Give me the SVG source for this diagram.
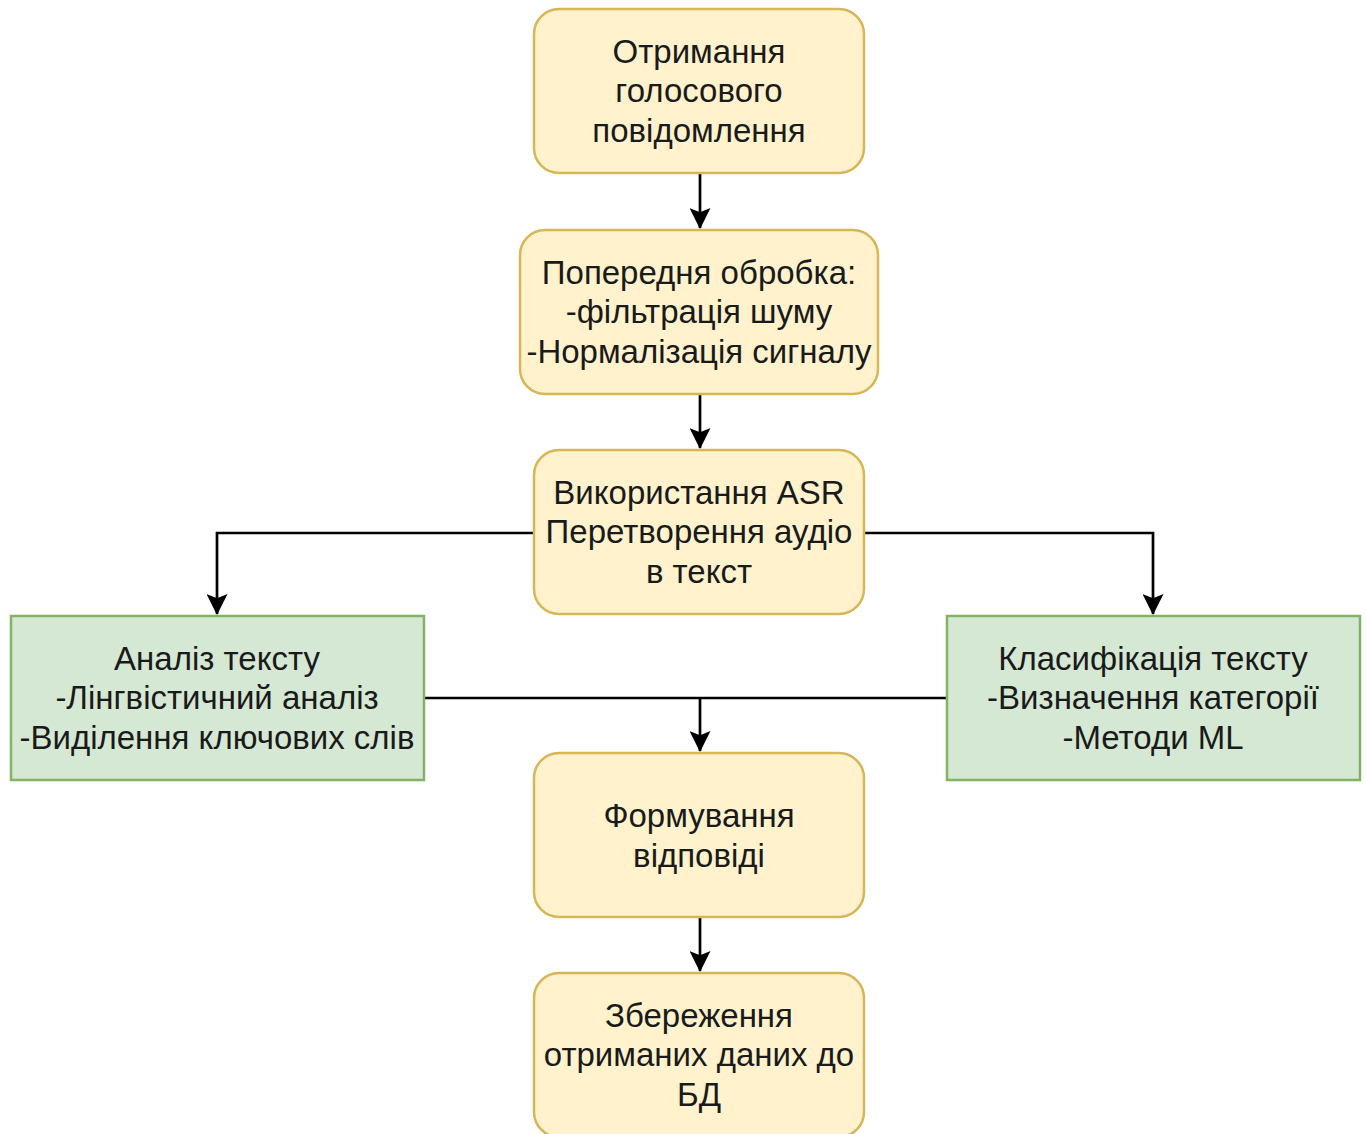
<svg xmlns="http://www.w3.org/2000/svg" width="1366" height="1134" viewBox="0 0 1366 1134">
  <style>
    .proc { fill: #fff2cc; stroke: #d6b656; stroke-width: 2.5; }
    .task { fill: #d5e8d4; stroke: #82b366; stroke-width: 2.5; }
    .lbl { font-family: "Liberation Sans", Arial, sans-serif; font-size: 33px; fill: #1a1a1a; text-anchor: middle; }
    .edge { fill: none; stroke: #000; stroke-width: 2.7; }
  </style>
  <defs>
    <!-- classic notched arrowhead -->
    <marker id="arrow" viewBox="0 0 20 20" refX="19" refY="10" markerWidth="21" markerHeight="21" markerUnits="userSpaceOnUse" orient="auto">
      <path d="M0,0 L20,10 L0,20 L4,10 Z" fill="#000"/>
    </marker>
  </defs>
  <rect width="1366" height="1134" fill="#ffffff"/>

  <g id="connectors">
    <path class="edge" d="M700,174 V228" marker-end="url(#arrow)"/>
    <path class="edge" d="M700,394 V448" marker-end="url(#arrow)"/>
    <path class="edge" d="M534,533 H217 V614" marker-end="url(#arrow)"/>
    <path class="edge" d="M864,533 H1153 V614" marker-end="url(#arrow)"/>
    <path class="edge" d="M424,698 H947"/>
    <path class="edge" d="M700,698 V751" marker-end="url(#arrow)"/>
    <path class="edge" d="M700,917 V971" marker-end="url(#arrow)"/>
  </g>

  <g id="receive">
    <rect class="proc" x="534" y="9" width="330" height="164" rx="25"/>
    <text class="lbl"><tspan x="699" y="63">Отримання</tspan><tspan x="699" y="102">голосового</tspan><tspan x="699" y="142">повідомлення</tspan></text>
  </g>

  <g id="preprocess">
    <rect class="proc" x="520" y="230" width="358" height="164" rx="25"/>
    <text class="lbl"><tspan x="699" y="284">Попередня обробка:</tspan><tspan x="699" y="323">-фільтрація шуму</tspan><tspan x="699" y="363">-Нормалізація сигналу</tspan></text>
  </g>

  <g id="asr">
    <rect class="proc" x="534" y="450" width="330" height="164" rx="25"/>
    <text class="lbl"><tspan x="699" y="504">Використання ASR</tspan><tspan x="699" y="543">Перетворення аудіо</tspan><tspan x="699" y="583">в текст</tspan></text>
  </g>

  <g id="analysis">
    <rect class="task" x="11" y="616" width="413" height="164"/>
    <text class="lbl"><tspan x="217" y="670">Аналіз тексту</tspan><tspan x="217" y="709">-Лінгвістичний аналіз</tspan><tspan x="217" y="749">-Виділення ключових слів</tspan></text>
  </g>

  <g id="classification">
    <rect class="task" x="947" y="616" width="413" height="164"/>
    <text class="lbl"><tspan x="1153" y="670">Класифікація тексту</tspan><tspan x="1153" y="709">-Визначення категорії</tspan><tspan x="1153" y="749">-Методи ML</tspan></text>
  </g>

  <g id="response">
    <rect class="proc" x="534" y="753" width="330" height="164" rx="25"/>
    <text class="lbl"><tspan x="699" y="827">Формування</tspan><tspan x="699" y="867">відповіді</tspan></text>
  </g>

  <g id="store">
    <rect class="proc" x="534" y="973" width="330" height="164" rx="25"/>
    <text class="lbl"><tspan x="699" y="1027">Збереження</tspan><tspan x="699" y="1066">отриманих даних до</tspan><tspan x="699" y="1106">БД</tspan></text>
  </g>
</svg>
